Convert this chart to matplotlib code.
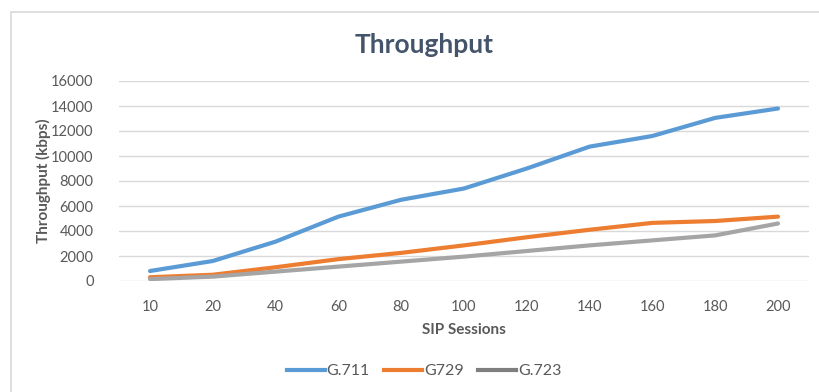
import matplotlib
matplotlib.use("Agg")
import matplotlib.pyplot as plt
from matplotlib.lines import Line2D
from matplotlib.patches import Rectangle

plt.rcParams['font.family'] = ['Lato', 'DejaVu Sans']

sessions = ["10", "20", "40", "60", "80", "100", "120", "140", "160", "180", "200"]
g711 = [800, 1600, 3150, 5150, 6500, 7400, 9000, 10750, 11600, 13050, 13800]
g729 = [300, 500, 1100, 1750, 2250, 2850, 3500, 4100, 4650, 4800, 5150]
g723 = [150, 350, 750, 1150, 1550, 1950, 2400, 2850, 3250, 3650, 4600]
yticks = [0, 2000, 4000, 6000, 8000, 10000, 12000, 14000, 16000]

series = [
    ("G.711", g711, "#5B9BD5", "#5B9BD5"),
    ("G729", g729, "#ED7D31", "#ED7D31"),
    ("G.723", g723, "#A5A5A5", "#7F7F7F"),
]

fig = plt.figure(figsize=(8.2, 3.92), dpi=100)
fig.patch.set_facecolor("white")

# chart-area border
fig.patches.append(Rectangle((11 / 820, -0.1), 1.2, 1 - 12 / 392 + 0.1,
                             transform=fig.transFigure, fill=False,
                             edgecolor="#D9D9D9", linewidth=1.2))

ax = fig.add_axes([118.6 / 820, 1 - 281 / 392, (809.4 - 118.6) / 820, 200 / 392])
x = list(range(len(sessions)))
for name, vals, color, _ in series:
    ax.plot(x, vals, color=color, linewidth=3.0, solid_capstyle="round",
            solid_joinstyle="round", zorder=3)

ax.set_xlim(-0.5, len(sessions) - 0.5)
ax.set_ylim(0, 16000)
ax.set_yticks(yticks)
ax.set_yticklabels([str(v) for v in yticks])
ax.set_xticks(x)
ax.set_xticklabels(sessions)
ax.grid(axis="y", color="#D9D9D9", linewidth=1.0)
ax.set_axisbelow(True)
for s in ["top", "right", "left", "bottom"]:
    ax.spines[s].set_visible(False)
ax.tick_params(axis="both", length=0, labelsize=10.5, labelcolor="#595959")
ax.tick_params(axis="x", pad=14)
ax.tick_params(axis="y", pad=18)

ax.set_xlabel("SIP Sessions", fontsize=11, fontweight="bold", color="#595959", labelpad=6)
ax.set_ylabel("Throughput (kbps)", fontsize=11, fontweight="bold", color="#595959")
ax.yaxis.set_label_coords(-0.098, 0.5)

fig.text(424 / 820, 1 - 45 / 392, "Throughput", ha="center", va="center",
         fontsize=19, fontweight="bold", color="#44546A")

handles = [Line2D([0], [0], color=lc, linewidth=3.0) for _, _, _, lc in series]
fig.legend(handles, [s[0] for s in series], loc="center",
           bbox_to_anchor=(424 / 820, 1 - 371 / 392), ncol=3, frameon=False,
           fontsize=11.5, handlelength=2.4, handletextpad=0.1, columnspacing=0.9,
           labelcolor="#595959")

fig.savefig("out.png", dpi=100, facecolor="white")
